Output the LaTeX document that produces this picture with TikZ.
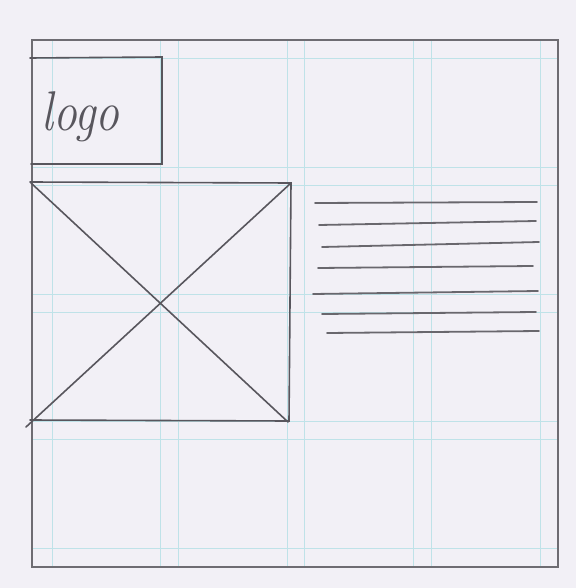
\documentclass[tikz,border=0pt]{standalone}
\usetikzlibrary{positioning}
\definecolor{sPaper}{HTML}{F2F0F6}
\definecolor{sPencil}{HTML}{58565D}
\definecolor{sFrame}{HTML}{6E6C72}
\definecolor{sGrid}{HTML}{BFE2E8}

\begin{document}
\begin{tikzpicture}[
  x=1pt, y=-1pt,
  grid/.style={sGrid, line width=0.7pt},
  frame/.style={sFrame, line width=1.3pt},
  pencil/.style={sPencil, line width=1.6pt, line cap=round},
  textline/.style={sPencil!90, line width=1.8pt, line cap=round},
]
  \fill[sPaper] (0,0) rectangle (576,588);
  \useasboundingbox (0,0) rectangle (576,588);

  % Grid
  \foreach \gx in {52,160,178,287,304,413,431,540}
    \draw[grid] (\gx,40) -- (\gx,567);
  \foreach \gy in {58,167,185,294,312,421,439,548}
    \draw[grid] (32,\gy) -- (558,\gy);

  % Page frame
  \draw[frame] (32,40) rectangle (558,567);

  % Logo
  \draw[pencil] (30,58) -- (162,57) -- (162,164) -- (31,164);
  \node[sPencil, font=\fontsize{56}{56}\selectfont\itshape, xscale=0.85, inner sep=0pt, anchor=base west] (logo) at (41,131) {logo};

  % Image placeholder
  \draw[pencil] (30,182) -- (291,183) -- (289,421) -- (30,420);
  \draw[pencil] (31,183) -- (288,422);
  \draw[pencil] (291,183) -- (26,427);

  % Text lines
  \foreach \xa/\ya/\xb/\yb in {315/203/537/202, 319/225/536/221, 322/247/539/242,
      318/268/533/266, 313/294/538/291, 322/314/536/312, 327/333/539/331}
    \draw[textline] (\xa,\ya) -- (\xb,\yb);
\end{tikzpicture}
\end{document}
